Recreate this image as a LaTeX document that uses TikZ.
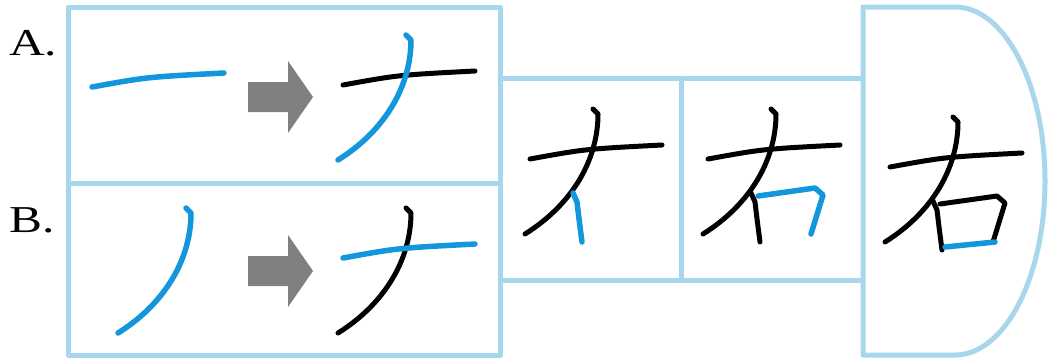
\documentclass[tikz,border=0pt]{standalone}
\usepackage{fontspec}
\setmainfont{Liberation Serif}
\usepackage{graphicx}
\definecolor{gridblue}{RGB}{168,214,236}
\definecolor{strokeblue}{RGB}{20,150,220}
\definecolor{arrowgray}{RGB}{128,128,128}
\tikzset{every path/.style={line cap=round,line join=round},
  gridline/.style={draw=gridblue,line width=5pt},
  oldstroke/.style={black,line width=5pt},
  newstroke/.style={strokeblue,line width=5.5pt},
  label text/.style={anchor=base west,inner sep=0pt,font=\fontsize{38}{38}\selectfont},
  harai/.pic={\draw (-2,0) -- (3,5) .. controls (3,50) and (-22,95) .. (-70,125);},
  yoko/.pic={\draw (-65,50) .. controls (-10,40) .. (67,36);},
  tate/.pic={\draw (-22,84) -- (-18,93) .. controls (-16,110) .. (-13,133);},
  kagi/.pic={\draw (-15,87) -- (42,79) -- (50,86) -- (38,125);},
  soko/.pic={\draw (-10,130) -- (40,125);},
  nextarrow/.pic={\fill[arrowgray] (0,-15) -- (40,-15) -- (40,-36) -- (65,0) -- (40,36) -- (40,15) -- (0,15) -- cycle;}}

\begin{document}
\begin{tikzpicture}[x=1pt,y=-1pt]
  \useasboundingbox (0,0) rectangle (1051,357);
  % boxes
  \draw[gridline] (68,7) rectangle (500,355) (68,183) -- (500,183);
  \draw[gridline] (500,78) -- (863,78) (500,280) -- (863,280) (681,78) -- (681,280);
  \draw[gridline] (863,7) -- (955,7) .. controls (1005,7) and (1045,85) .. (1045,181)
    .. controls (1045,277) and (1005,355) .. (955,355) -- (863,355) -- cycle;
  \node[label text] (labA) at (9,55) {\scalebox{1.3}[1]{A.}};
  \node[label text] (labB) at (9,232) {\scalebox{1.3}[1]{B.}};
  % top of each character
  \coordinate (A0) at (157,37);
  \coordinate (A1) at (408,35);
  \coordinate (B0) at (188,208);
  \coordinate (B1) at (408,208);
  \coordinate (C1) at (595,109);
  \coordinate (C2) at (773,109);
  \coordinate (C3) at (955,117);
  \pic[newstroke] at (A0) {yoko};
  \pic at (248,97) {nextarrow};
  \pic[oldstroke] at (A1) {yoko};
  \pic[newstroke] at (A1) {harai};
  \pic[newstroke] at (B0) {harai};
  \pic at (248,271) {nextarrow};
  \pic[oldstroke] at (B1) {harai};
  \pic[newstroke] at (B1) {yoko};
  \foreach \c in {C1,C2,C3}
    \pic[oldstroke] at (\c) {yoko} pic[oldstroke] at (\c) {harai};
  \pic[newstroke] at (C1) {tate};
  \pic[oldstroke] at (C2) {tate};
  \pic[newstroke] at (C2) {kagi};
  \pic[oldstroke] at (C3) {tate};
  \pic[oldstroke] at (C3) {kagi};
  \pic[newstroke] at (C3) {soko};
\end{tikzpicture}
\end{document}
